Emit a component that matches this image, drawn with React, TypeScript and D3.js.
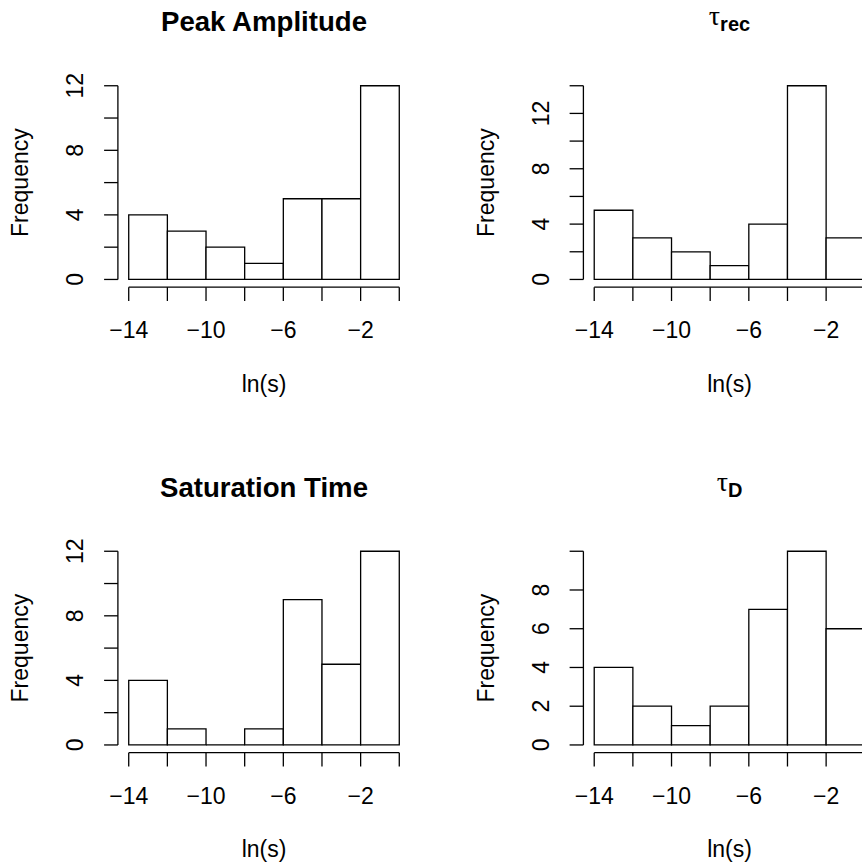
import React, { useEffect, useRef } from 'react';
import * as d3 from 'd3';

// bin edges shared by all four histograms (ln of seconds)
const breaks = [-14, -12, -10, -8, -6, -4, -2, 0];
const xTickLabels = [-14, -10, -6, -2];

const peakAmplitude = [4, 3, 2, 1, 5, 5, 12];
const tauRec = [5, 3, 2, 1, 4, 14, 3];
const saturationTime = [4, 1, 0, 1, 9, 5, 12];
const tauD = [4, 2, 1, 2, 7, 10, 6];

// which y ticks get a number next to them
const peakLabels = [0, 4, 8, 12];
const tauRecLabels = [0, 4, 8, 12];
const saturationLabels = [0, 4, 8, 12];
const tauDLabels = [0, 2, 4, 6, 8];

const panels = [
  { title: 'Peak Amplitude', sub: null, counts: peakAmplitude, labels: peakLabels, col: 0, row: 0 },
  { title: '\u03C4', sub: 'rec', counts: tauRec, labels: tauRecLabels, col: 1, row: 0 },
  { title: 'Saturation Time', sub: null, counts: saturationTime, labels: saturationLabels, col: 0, row: 1 },
  { title: '\u03C4', sub: 'D', counts: tauD, labels: tauDLabels, col: 1, row: 1 },
];

const W = 862;
const H = 868;
const FONT = '"Liberation Sans", Arial, Helvetica, sans-serif';

export default function App() {
  const svgRef = useRef<SVGSVGElement>(null);

  useEffect(() => {
    if (!svgRef.current) return;
    const svg = d3.select(svgRef.current);
    svg.selectAll('*').remove();

    const cellW = 465.5;
    const cellH = 465.5;
    const lw = 1.3;

    panels.forEach(p => {
      const ox = p.col * cellW;
      const oy = p.row * cellH;
      const g = svg.append('g').attr('transform', `translate(${ox},${oy})`);

      // plot region, R style: ranges padded by 4% on each side
      const left = 117.9, right = 410.1, top = 78, bottom = 287.2;
      const xMin = breaks[0], xMax = breaks[breaks.length - 1];
      const xPad = (xMax - xMin) * 0.04;
      const x = d3.scaleLinear().domain([xMin - xPad, xMax + xPad]).range([left, right]);
      const yMax = d3.max(p.counts) as number;
      const y = d3.scaleLinear().domain([-yMax * 0.04, yMax * 1.04]).range([bottom, top]);

      // bars as closed paths so empty bins still leave their base line
      g.append('g')
        .selectAll('path')
        .data(p.counts)
        .join('path')
        .attr('d', (d, i) => {
          const x0 = x(breaks[i]), x1 = x(breaks[i + 1]);
          return `M${x0},${y(0)}V${y(d)}H${x1}V${y(0)}Z`;
        })
        .attr('fill', 'white')
        .attr('stroke', 'black')
        .attr('stroke-width', lw);

      // x axis
      const xa = g.append('g').attr('stroke', 'black').attr('stroke-width', lw);
      xa.append('line')
        .attr('x1', x(xMin)).attr('x2', x(xMax))
        .attr('y1', bottom).attr('y2', bottom);
      xa.selectAll('line.tick')
        .data(breaks)
        .join('line')
        .attr('class', 'tick')
        .attr('x1', d => x(d)).attr('x2', d => x(d))
        .attr('y1', bottom).attr('y2', bottom + 13.8);
      g.append('g')
        .selectAll('text')
        .data(xTickLabels)
        .join('text')
        .attr('x', d => x(d))
        .attr('y', 338.3)
        .attr('text-anchor', 'middle')
        .style('font', `23px ${FONT}`)
        .text(d => d3.format('d')(d));

      // y axis
      const yTicks = d3.range(0, yMax + 1, 2);
      const ya = g.append('g').attr('stroke', 'black').attr('stroke-width', lw);
      ya.append('line')
        .attr('x1', left).attr('x2', left)
        .attr('y1', y(0)).attr('y2', y(yTicks[yTicks.length - 1]));
      ya.selectAll('line.tick')
        .data(yTicks)
        .join('line')
        .attr('class', 'tick')
        .attr('x1', left - 13.8).attr('x2', left)
        .attr('y1', d => y(d)).attr('y2', d => y(d));
      g.append('g')
        .selectAll('text')
        .data(p.labels)
        .join('text')
        .attr('transform', d => `translate(83.3,${y(d)}) rotate(-90)`)
        .attr('text-anchor', 'middle')
        .style('font', `23px ${FONT}`)
        .text(d => d);

      // axis titles
      g.append('text')
        .attr('transform', `translate(28.3,${(top + bottom) / 2}) rotate(-90)`)
        .attr('text-anchor', 'middle')
        .style('font', `23px ${FONT}`)
        .text('Frequency');
      g.append('text')
        .attr('x', (left + right) / 2)
        .attr('y', 391.5)
        .attr('text-anchor', 'middle')
        .style('font', `23px ${FONT}`)
        .text('ln(s)');

      // main title
      const t = g.append('text')
        .attr('x', (left + right) / 2)
        .attr('text-anchor', 'middle')
        .style('font-family', FONT);
      if (p.sub) {
        t.attr('y', 25);
        t.append('tspan')
          .style('font-family', '"Liberation Serif", "DejaVu Serif", serif')
          .style('font-size', '28px')
          .style('font-weight', 'normal')
          .text(p.title);
        t.append('tspan')
          .attr('dy', 6.3)
          .style('font-size', '20px')
          .style('font-weight', 'bold')
          .text(p.sub);
      } else {
        t.attr('y', 31)
          .style('font-size', '27.6px')
          .style('font-weight', 'bold')
          .text(p.title);
      }
    });
  }, []);

  return (
    <div style={{ position: 'fixed', left: 0, top: 0, width: W, height: H, background: 'white' }}>
      <svg ref={svgRef} width={W} height={H} style={{ display: 'block' }} />
    </div>
  );
}
